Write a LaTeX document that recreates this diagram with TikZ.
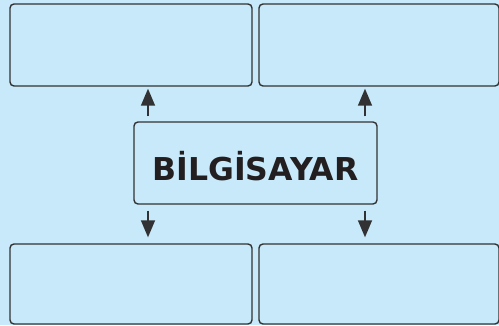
\documentclass[tikz,border=0pt]{standalone}
\usepackage{fontspec}
\setmainfont{DejaVu Sans}
\usetikzlibrary{positioning, arrows.meta}
\definecolor{bgblue}{RGB}{199,233,249}
\definecolor{edgegray}{RGB}{50,50,52}
\definecolor{textblack}{RGB}{35,31,32}

\begin{document}
\begin{tikzpicture}[
    x=1pt, y=-1pt,
    box/.style={rectangle, rounded corners=4pt, draw=edgegray, line width=1.4pt, fill=bgblue, inner sep=0pt},
    arrow/.style={-{Triangle[length=17pt, width=14pt]}, line width=1.5pt, edgegray}
]

    % Background
    \fill[bgblue] (0, 0) rectangle (499, 325);
    \useasboundingbox (0, 0) rectangle (499, 325);

    % Empty boxes
    \node[box, minimum width=242pt, minimum height=82pt] (tl) at (131, 45) {};
    \node[box, minimum width=240pt, minimum height=82pt] (tr) at (379, 45) {};
    \node[box, minimum width=242pt, minimum height=80pt] (bl) at (131, 284) {};
    \node[box, minimum width=240pt, minimum height=80pt] (br) at (379, 284) {};

    % Central box
    \node[box, minimum width=243pt, minimum height=82pt] (comp) at (255.5, 163) {};
    \node[font=\fontsize{31.5}{38}\selectfont\bfseries, text=textblack] (label) at (255.5, 166.5) {BİLGİSAYAR};

    % Arrows
    \draw[arrow] ([shift={(-107.5pt, 5pt)}]comp.north) -- ([shift={(-107.5pt, -2pt)}]comp.north |- tl.south);
    \draw[arrow] ([shift={(109.5pt, 5pt)}]comp.north) -- ([shift={(109.5pt, -2pt)}]comp.north |- tr.south);
    \draw[arrow] ([shift={(-107.5pt, -6pt)}]comp.south) -- ([shift={(-107.5pt, 6pt)}]comp.south |- bl.north);
    \draw[arrow] ([shift={(109.5pt, -6pt)}]comp.south) -- ([shift={(109.5pt, 6pt)}]comp.south |- br.north);

\end{tikzpicture}
\end{document}
